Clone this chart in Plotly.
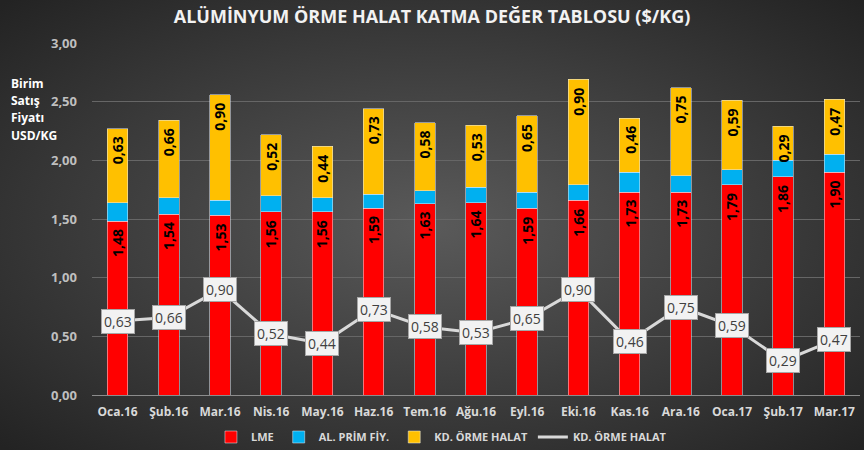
import base64
import plotly.graph_objects as go

categories = ["Oca.16", "Şub.16", "Mar.16", "Nis.16", "May.16", "Haz.16", "Tem.16", "Ağu.16",
              "Eyl.16", "Eki.16", "Kas.16", "Ara.16", "Oca.17", "Şub.17", "Mar.17"]
lme = [1.48, 1.54, 1.53, 1.56, 1.56, 1.59, 1.63, 1.64, 1.59, 1.66, 1.73, 1.73, 1.79, 1.86, 1.90]
prim = [0.16, 0.14, 0.13, 0.14, 0.12, 0.12, 0.11, 0.13, 0.14, 0.13, 0.17, 0.14, 0.13, 0.14, 0.15]
orme = [0.63, 0.66, 0.90, 0.52, 0.44, 0.73, 0.58, 0.53, 0.65, 0.90, 0.46, 0.75, 0.59, 0.29, 0.47]
y_ticks = [0, 0.5, 1.0, 1.5, 2.0, 2.5, 3.0]
y_label_lines = ["Birim", "Satış", "Fiyatı", "USD/KG"]


def fmt(v):
    return f"{v:.2f}".replace(".", ",")


svg = """<svg xmlns='http://www.w3.org/2000/svg' width='864' height='450'>
<defs><radialGradient id='g' cx='50%' cy='50%' r='70%'>
<stop offset='0%' stop-color='#5a5a5a'/><stop offset='100%' stop-color='#232323'/>
</radialGradient></defs><rect width='864' height='450' fill='url(#g)'/></svg>"""
bg_src = "data:image/svg+xml;base64," + base64.b64encode(svg.encode()).decode()

bar_font = dict(family="Open Sans", size=14, color="#000000", weight="bold")

fig = go.Figure()
fig.add_trace(go.Bar(x=categories, y=lme, name="LME", marker_color="#FF0000"))
fig.add_trace(go.Bar(x=categories, y=prim, name="AL. PRİM FİY.", marker_color="#00B0F0"))
fig.add_trace(go.Bar(x=categories, y=orme, name="KD. ÖRME HALAT", marker_color="#FFC000"))
fig.add_trace(go.Scatter(x=categories, y=orme, name="KD. ÖRME HALAT", mode="lines",
                         line=dict(color="#D9D9D9", width=3)))

annotations = []
# segment labels (rotated, near top of the red and yellow segments)
for c, a, b, o in zip(categories, lme, prim, orme):
    for val, top in ((a, a), (o, a + b + o)):
        annotations.append(dict(x=c, y=top, xref="x", yref="y", text=fmt(val), showarrow=False,
                                textangle=-90, yshift=-22, xanchor="center", yanchor="middle",
                                font=bar_font))
# line labels
for c, v in zip(categories, orme):
    annotations.append(dict(x=c, y=v, xref="x", yref="y", text=fmt(v), showarrow=False,
                            font=dict(family="Open Sans", size=14, color="#404040"),
                            bgcolor="#F2F2F2", bordercolor="#A6A6A6", borderwidth=1, borderpad=2))
pl, pr, pt, pb = 92, 4, 43, 55
pw, ph = 864 - pl - pr, 450 - pt - pb
for i, line in enumerate(y_label_lines):
    annotations.append(dict(x=(9 - pl) / pw, y=(450 - pb - (83 + i * 17.5)) / ph,
                            xref="paper", yref="paper", text=line,
                            showarrow=False, xanchor="left", yanchor="middle",
                            font=dict(family="Open Sans", size=12, color="#FFFFFF", weight="bold")))

fig.update_layout(
    width=864, height=450,
    margin=dict(l=pl, r=pr, t=pt, b=pb, autoexpand=False),
    paper_bgcolor="#3a3a3a", plot_bgcolor="rgba(0,0,0,0)",
    barmode="stack", bargap=0.6,
    title=dict(text="ALÜMİNYUM ÖRME HALAT KATMA DEĞER TABLOSU ($/KG)", x=0.5, xanchor="center",
               y=1 - 17 / 450, yanchor="middle",
               font=dict(family="Open Sans", size=18, color="#F2F2F2", weight="bold")),
    font=dict(family="Open Sans"),
    xaxis=dict(tickfont=dict(size=12, color="#D9D9D9", family="Open Sans", weight="bold"), showline=True,
               linecolor="#8c8c8c", linewidth=1, ticks="", showgrid=False, fixedrange=True,
               ticklabelstandoff=6),
    yaxis=dict(range=[0, 3], tickvals=y_ticks, ticktext=[fmt(v) for v in y_ticks],
               tickfont=dict(size=13, color="#BFBFBF", family="Open Sans", weight="bold"),
               gridcolor="#666666", gridwidth=1, zeroline=False, showline=False, ticks="",
               ticklabelstandoff=14, fixedrange=True),
    legend=dict(orientation="h", x=0.455, xanchor="center", y=(395 - 437) / ph, yanchor="middle",
                font=dict(size=11, color="#D9D9D9", weight="bold"), bgcolor="rgba(0,0,0,0)",
                traceorder="normal"),
    showlegend=True,
    annotations=annotations,
    images=[dict(source=bg_src, xref="paper", yref="paper", x=-pl / pw, y=1 + pt / ph,
                 sizex=864 / pw, sizey=450 / ph, sizing="stretch", layer="below",
                 xanchor="left", yanchor="top")],
)
fig.write_html("out.html", config={"displayModeBar": False},
               post_script="document.body.style.margin='0px';")
